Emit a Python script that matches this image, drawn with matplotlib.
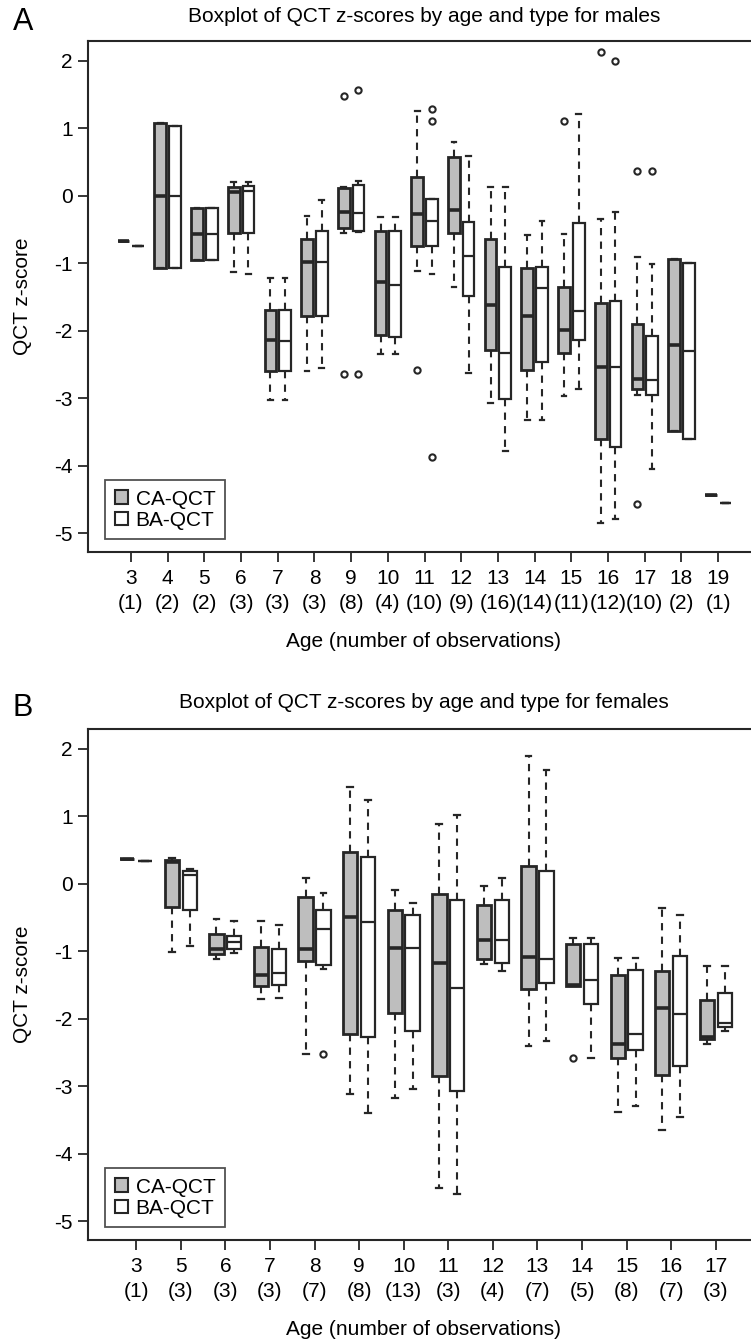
import numpy as np
import matplotlib.pyplot as plt
from matplotlib.patches import Patch

plt.rcParams['font.family'] = ['Liberation Sans', 'DejaVu Sans']

# ---- males (panel A) ----
ages_m = [3, 4, 5, 6, 7, 8, 9, 10, 11, 12, 13, 14, 15, 16, 17, 18, 19]
nobs_m = [1, 2, 2, 3, 3, 3, 8, 4, 10, 9, 16, 14, 11, 12, 10, 2, 1]

ca_m_lo = [-0.68, -1.07, -0.96, -1.13, -3.03, -2.60, -0.56, -2.34, -1.12, -1.35, -3.07, -3.33, -2.97, -4.85, -2.96, -3.49, -4.44]
ca_m_q1 = [-0.68, -1.07, -0.96, -0.55, -2.60, -1.79, -0.48, -2.07, -0.75, -0.56, -2.29, -2.59, -2.33, -3.60, -2.86, -3.49, -4.44]
ca_m_med = [-0.68, 0.00, -0.57, 0.05, -2.14, -0.99, -0.25, -1.28, -0.28, -0.21, -1.62, -1.78, -1.99, -2.54, -2.72, -2.21, -4.44]
ca_m_q3 = [-0.68, 1.07, -0.18, 0.12, -1.69, -0.64, 0.11, -0.52, 0.27, 0.57, -0.65, -1.08, -1.36, -1.59, -1.90, -0.94, -4.44]
ca_m_hi = [-0.68, 1.07, -0.18, 0.20, -1.22, -0.30, 0.13, -0.32, 1.26, 0.80, 0.12, -0.59, -0.57, -0.35, -0.91, -0.94, -4.44]
ca_m_out = [[], [], [], [], [], [], [1.48, -2.65], [], [-2.58], [], [], [], [1.10], [2.12], [0.37, -4.57], [], []]

ba_m_lo = [-0.75, -1.07, -0.96, -1.16, -3.03, -2.55, -0.54, -2.34, -1.16, -2.63, -3.78, -3.33, -2.86, -4.79, -4.05, -3.60, -4.56]
ba_m_q1 = [-0.75, -1.07, -0.96, -0.55, -2.60, -1.78, -0.52, -2.10, -0.74, -1.49, -3.01, -2.47, -2.14, -3.73, -2.96, -3.60, -4.56]
ba_m_med = [-0.75, -0.01, -0.57, 0.07, -2.16, -0.99, -0.26, -1.32, -0.38, -0.89, -2.33, -1.37, -1.71, -2.54, -2.73, -2.30, -4.56]
ba_m_q3 = [-0.75, 1.03, -0.18, 0.14, -1.70, -0.52, 0.15, -0.52, -0.05, -0.39, -1.06, -1.06, -0.41, -1.56, -2.08, -1.00, -4.56]
ba_m_hi = [-0.75, 1.03, -0.18, 0.20, -1.22, -0.07, 0.21, -0.32, -0.05, 0.59, 0.12, -0.37, 1.21, -0.25, -1.01, -1.00, -4.56]
ba_m_out = [[], [], [], [], [], [], [1.56, -2.65], [], [1.28, 1.11, -3.87], [], [], [], [], [2.00], [0.37], [], []]

# ---- females (panel B) ----
ages_f = [3, 5, 6, 7, 8, 9, 10, 11, 12, 13, 14, 15, 16, 17]
nobs_f = [1, 3, 3, 3, 7, 8, 13, 3, 4, 7, 5, 8, 7, 3]

ca_f_lo = [0.37, -1.01, -1.11, -1.71, -2.53, -3.12, -3.18, -4.51, -1.19, -2.41, -1.51, -3.38, -3.65, -2.37]
ca_f_q1 = [0.37, -0.35, -1.04, -1.52, -1.14, -2.23, -1.91, -2.85, -1.11, -1.56, -1.51, -2.59, -2.84, -2.30]
ca_f_med = [0.37, 0.32, -0.97, -1.35, -0.97, -0.49, -0.96, -1.17, -0.83, -1.09, -1.50, -2.38, -1.85, -2.27]
ca_f_q3 = [0.37, 0.35, -0.74, -0.94, -0.20, 0.47, -0.39, -0.15, -0.32, 0.26, -0.89, -1.35, -1.30, -1.72]
ca_f_hi = [0.37, 0.38, -0.52, -0.56, 0.08, 1.43, -0.10, 0.89, -0.04, 1.89, -0.81, -1.10, -0.36, -1.22]
ca_f_out = [[], [], [], [], [], [], [], [], [], [], [-2.59], [], [], []]

ba_f_lo = [0.33, -0.93, -1.03, -1.70, -1.27, -3.40, -3.05, -4.60, -1.30, -2.33, -2.58, -3.29, -3.46, -2.19]
ba_f_q1 = [0.33, -0.39, -0.97, -1.50, -1.21, -2.27, -2.19, -3.08, -1.18, -1.47, -1.79, -2.46, -2.70, -2.13]
ba_f_med = [0.33, 0.13, -0.87, -1.33, -0.68, -0.57, -0.96, -1.55, -0.83, -1.11, -1.43, -2.23, -1.93, -2.07]
ba_f_q3 = [0.33, 0.18, -0.77, -0.97, -0.39, 0.40, -0.47, -0.25, -0.25, 0.19, -0.89, -1.28, -1.07, -1.62]
ba_f_hi = [0.33, 0.22, -0.55, -0.62, -0.14, 1.24, -0.29, 1.02, 0.08, 1.69, -0.81, -1.10, -0.46, -1.22]
ba_f_out = [[], [], [], [], [-2.53], [], [], [], [], [], [], [], [], []]

GRAY = '#bebebe'
DARK = '#262626'
FS = 15


def make_stats(lo, q1, med, q3, hi, out):
    return [dict(whislo=a, q1=b, med=c, q3=d, whishi=e, fliers=f)
            for a, b, c, d, e, f in zip(lo, q1, med, q3, hi, out)]


def draw_boxes(ax, pos, stats, face, lw, med_lw):
    ax.bxp(stats, positions=pos, widths=0.32, capwidths=0.13,
           patch_artist=True, manage_ticks=False,
           boxprops=dict(facecolor=face, edgecolor=DARK, linewidth=lw),
           medianprops=dict(color=DARK, linewidth=med_lw, solid_capstyle='butt'),
           whiskerprops=dict(color=DARK, linewidth=1.5, linestyle=(0, (3.5, 3.0))),
           capprops=dict(color=DARK, linewidth=1.6),
           flierprops=dict(marker='o', markersize=4.5, markerfacecolor='none',
                           markeredgecolor=DARK, markeredgewidth=1.5))


def panel(ax, ages, nobs, ca, ba, xlim, title, letter, ty, ly):
    x = np.arange(1, len(ages) + 1)
    draw_boxes(ax, x - 0.2, make_stats(*ca), GRAY, 2.0, 2.6)
    draw_boxes(ax, x + 0.2, make_stats(*ba), 'white', 1.6, 1.6)
    ax.set_xlim(*xlim)
    ax.set_ylim(-5.28, 2.29)
    ax.set_yticks(range(-5, 3))
    ax.set_yticklabels([str(v) for v in range(-5, 3)], fontsize=FS)
    ax.set_xticks(x)
    ax.set_xticklabels([f"{a}\n({n})" for a, n in zip(ages, nobs)],
                       fontsize=FS, linespacing=1.45)
    ax.tick_params(axis='both', direction='out', length=7, width=1.3, color=DARK)
    ax.tick_params(axis='y', pad=4)
    ax.tick_params(axis='x', pad=5)
    for s in ax.spines.values():
        s.set_linewidth(1.5)
        s.set_color(DARK)
    ax.set_ylabel('QCT z-score', fontsize=FS)
    ax.yaxis.set_label_coords(-0.097, 0.5)
    ax.yaxis.label.set_va('center')
    ax.set_xlabel('Age (number of observations)', fontsize=FS)
    ax.xaxis.set_label_coords(0.5, -0.175)
    ax.xaxis.label.set_va('center')
    fig.text(424 / 751, 1 - ty / 1343, title, fontsize=FS, ha='center', va='center')
    fig.text(13 / 751, 1 - ly / 1343, letter, fontsize=22, ha='left', va='center')
    handles = [Patch(facecolor=GRAY, edgecolor=DARK, linewidth=1.5, label='CA-QCT'),
               Patch(facecolor='white', edgecolor=DARK, linewidth=1.5, label='BA-QCT')]
    leg = ax.legend(handles=handles, loc='lower left', bbox_to_anchor=(0.026, 0.025),
                    fontsize=FS, frameon=True, fancybox=False, handlelength=0.65,
                    handleheight=0.65, handletextpad=0.35, borderpad=0.45,
                    labelspacing=0.1, borderaxespad=0)
    leg.get_frame().set_edgecolor(DARK)
    leg.get_frame().set_linewidth(1.3)


fig = plt.figure(figsize=(7.51, 13.43), dpi=100)
W = (760 - 88) / 751
axA = fig.add_axes([88 / 751, 1 - 552 / 1343, W, (552 - 41) / 1343])
axB = fig.add_axes([88 / 751, 1 - 1240 / 1343, W, (1240 - 729) / 1343])

panel(axA, ages_m, nobs_m,
      (ca_m_lo, ca_m_q1, ca_m_med, ca_m_q3, ca_m_hi, ca_m_out),
      (ba_m_lo, ba_m_q1, ba_m_med, ba_m_q3, ba_m_hi, ba_m_out),
      (-0.17, 18.14), 'Boxplot of QCT z-scores by age and type for males', 'A', 16, 22)
panel(axB, ages_f, nobs_f,
      (ca_f_lo, ca_f_q1, ca_f_med, ca_f_q3, ca_f_hi, ca_f_out),
      (ba_f_lo, ba_f_q1, ba_f_med, ba_f_q3, ba_f_hi, ba_f_out),
      (-0.08, 14.99), 'Boxplot of QCT z-scores by age and type for females', 'B', 703, 708)

fig.savefig('out.png', dpi=100)
plt.close(fig)
